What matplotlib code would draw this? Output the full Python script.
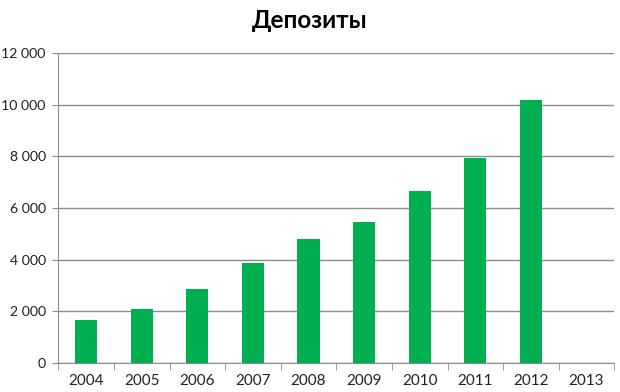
import matplotlib
matplotlib.use("Agg")
import matplotlib.pyplot as plt
import numpy as np
from matplotlib.ticker import FuncFormatter, FixedLocator

years = ["2004", "2005", "2006", "2007", "2008", "2009", "2010", "2011", "2012", "2013"]
deposits = [1655, 2085, 2850, 3880, 4790, 5445, 6650, 7940, 10180, 0]

plt.rcParams["font.family"] = ["Lato", "DejaVu Sans"]

fig = plt.figure(figsize=(6.2, 3.92), dpi=100)
ax = fig.add_axes([58.3 / 620, 1 - 362.7 / 392, (614.3 - 58.3) / 620, (362.7 - 53.3) / 392])

x = np.arange(len(years))
ax.bar(x, deposits, width=0.4, color="#00B050", zorder=3)

ax.set_xlim(-0.5, len(years) - 0.5)
ax.set_ylim(0, 12000)
ax.set_yticks(np.arange(0, 12001, 2000))
ax.yaxis.set_major_formatter(FuncFormatter(lambda v, p: f"{int(v):,}".replace(",", " ")))
ax.grid(axis="y", color="#8c8c8c", linewidth=1, zorder=0)

ax.set_xticks(x)
ax.set_xticklabels(years)
ax.xaxis.set_minor_locator(FixedLocator(np.arange(-0.5, len(years), 1)))
ax.tick_params(axis="x", which="major", length=0, pad=8, labelsize=11, colors="#222222")
ax.tick_params(axis="x", which="minor", length=5, color="#8c8c8c", direction="out")
ax.tick_params(axis="y", length=4, color="#8c8c8c", labelcolor="#222222", labelsize=10.2, pad=5)

for side in ["top", "right"]:
    ax.spines[side].set_visible(False)
for side in ["left", "bottom"]:
    ax.spines[side].set_color("#8c8c8c")

fig.text(0.5, 1 - 20 / 392, "Депозиты", ha="center", va="center", fontsize=17.5, fontweight="bold")

fig.savefig("out.png", dpi=100)
